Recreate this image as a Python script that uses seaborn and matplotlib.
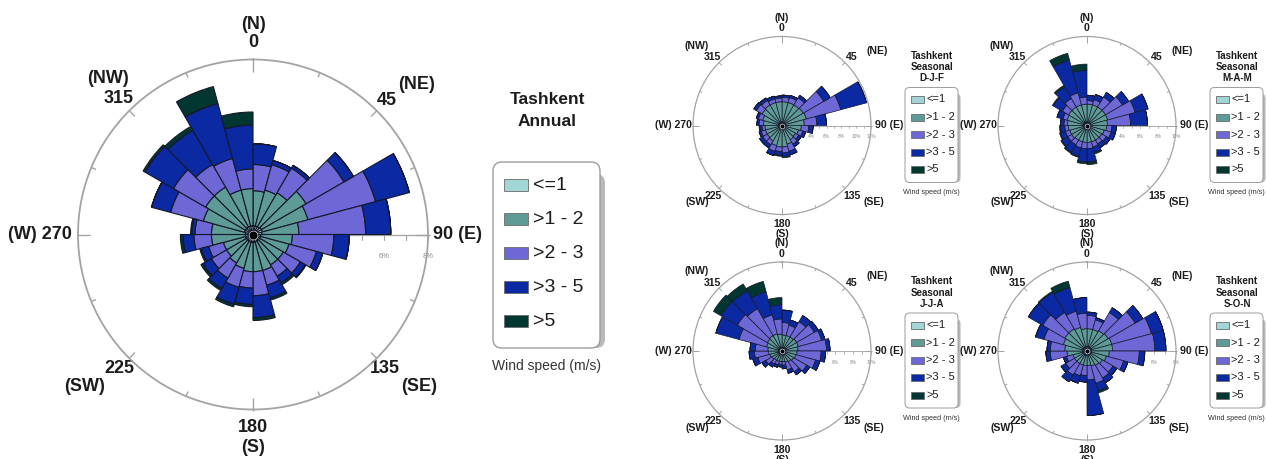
import numpy as np
import matplotlib
matplotlib.use("Agg")
import matplotlib.pyplot as plt
from matplotlib.patches import FancyBboxPatch, Rectangle
import seaborn as sns

sns.set_theme(style="white")
plt.rcParams["font.family"] = ["Liberation Sans", "DejaVu Sans"]

# ---------------------------------------------------------------- data
# 24 direction sectors of 15 degrees, given by their starting bearing
sector_start = np.arange(0, 360, 15)
speed_bins = ["<=1", ">1 - 2", ">2 - 3", ">3 - 5", ">5"]
speed_colors = sns.color_palette(["#a2d6d6", "#5e9b97", "#6d68d6", "#0a29a3", "#023631"])

# Cumulative frequency (%) per sector for wind at or below each speed limit
# (le1: <=1 m/s, le2: <=2, le3: <=3, le5: <=5, all: every speed)
annual_le1 = [0.40, 0.40, 0.40, 0.45, 0.45, 0.40, 0.35, 0.35, 0.35, 0.35, 0.35, 0.35,
              0.35, 0.35, 0.35, 0.35, 0.35, 0.35, 0.35, 0.40, 0.40, 0.40, 0.40, 0.40]
annual_le2 = [2.0, 2.1, 2.2, 2.8, 2.6, 2.1, 1.8, 1.7, 1.6, 1.6, 1.7, 1.7,
              1.7, 1.6, 1.5, 1.4, 1.4, 1.9, 1.9, 2.35, 2.5, 2.5, 2.1, 2.1]
annual_le3 = [3.2, 3.3, 3.5, 4.8, 5.8, 5.15, 3.7, 3.0, 2.5, 2.2, 2.4, 2.8,
              2.45, 2.5, 2.3, 2.2, 2.1, 2.7, 2.65, 3.9, 4.2, 3.7, 3.6, 3.0]
annual_le5 = [4.15, 3.5, 3.65, 5.3, 7.4, 6.3, 4.4, 3.3, 2.75, 2.55, 3.0, 3.8,
              3.2, 3.3, 2.85, 2.65, 2.45, 3.2, 2.8, 4.8, 5.7, 5.5, 6.2, 5.0]
annual_all = [4.15, 3.5, 3.65, 5.3, 7.4, 6.3, 4.4, 3.3, 2.8, 2.65, 3.1, 3.93,
              3.3, 3.42, 2.95, 2.75, 2.52, 3.32, 2.85, 4.8, 5.8, 5.7, 7.0, 5.6]

djf_le1 = [0.45] * 24
djf_le2 = [3.2, 3.2, 3.2, 3.3, 3.4, 3.0, 2.6, 2.3, 2.1, 2.2, 2.6, 2.9,
           2.9, 2.8, 2.4, 2.3, 2.3, 2.3, 2.5, 2.7, 3.1, 3.2, 3.2, 3.2]
djf_le3 = [3.8, 3.9, 4.3, 6.5, 8.2, 4.7, 3.6, 2.9, 2.6, 2.9, 3.6, 3.7,
           3.5, 3.6, 3.0, 3.0, 2.9, 2.7, 3.1, 3.3, 4.0, 3.9, 3.7, 3.7]
djf_le5 = [4.1, 4.2, 4.7, 7.5, 11.8, 6.0, 4.2, 3.3, 3.0, 3.3, 4.1, 4.2,
           4.0, 4.2, 3.5, 3.5, 3.2, 3.0, 3.4, 3.6, 4.4, 4.3, 4.1, 4.0]
djf_all = [4.1, 4.2, 4.7, 7.5, 11.8, 6.0, 4.2, 3.3, 3.0, 3.3, 4.1, 4.35,
           4.15, 4.2, 3.5, 3.5, 3.2, 3.1, 3.4, 3.6, 4.4, 4.3, 4.1, 4.0]

mam_le1 = [0.40] * 24
mam_le2 = [2.4, 2.4, 2.4, 2.4, 2.4, 2.3, 2.2, 2.0, 1.9, 1.9, 1.9, 1.9,
           1.9, 1.9, 1.9, 2.0, 2.0, 2.1, 2.2, 2.3, 2.4, 2.4, 2.4, 2.4]
mam_le3 = [2.8, 3.0, 3.7, 4.6, 5.6, 4.9, 2.8, 2.8, 2.5, 2.4, 2.5, 2.6,
           2.6, 2.6, 2.5, 2.5, 2.5, 2.5, 2.6, 2.8, 3.2, 3.5, 3.8, 3.2]
mam_le5 = [3.4, 3.6, 4.3, 5.4, 7.1, 6.8, 3.3, 3.3, 3.0, 2.9, 3.1, 4.1,
           4.1, 3.6, 3.5, 3.3, 3.1, 3.0, 3.0, 3.5, 4.4, 5.0, 7.6, 6.2]
mam_all = [3.4, 3.6, 4.3, 5.4, 7.1, 6.8, 3.3, 3.3, 3.0, 2.9, 3.3, 4.4,
           4.3, 3.7, 3.6, 3.4, 3.2, 3.1, 3.0, 3.5, 4.5, 5.2, 8.4, 6.9]

jja_le1 = [0.40] * 24
jja_le2 = [1.8, 1.8, 1.8, 1.9, 1.9, 1.8, 1.7, 1.6, 1.5, 1.4, 1.3, 1.2,
           1.2, 1.2, 1.2, 1.3, 1.4, 1.5, 1.6, 1.8, 1.9, 2.0, 2.0, 1.9]
jja_le3 = [3.2, 3.0, 3.8, 4.2, 4.6, 5.0, 4.4, 3.9, 3.2, 2.7, 2.2, 1.6,
           1.5, 1.6, 1.7, 2.1, 2.8, 3.1, 3.0, 5.0, 5.8, 5.5, 4.2, 3.6]
jja_le5 = [4.6, 3.6, 4.6, 4.7, 5.0, 5.4, 4.9, 4.4, 3.6, 3.1, 2.6, 2.0,
           1.8, 1.9, 2.1, 2.6, 3.4, 3.7, 3.6, 7.7, 7.9, 7.8, 6.9, 5.2]
jja_all = [4.6, 3.6, 4.6, 4.7, 5.0, 5.4, 4.9, 4.4, 3.6, 3.1, 2.6, 2.0,
           1.8, 1.9, 2.1, 2.6, 3.4, 3.7, 3.6, 7.7, 8.9, 8.7, 8.1, 6.0]

son_le1 = [0.40] * 24
son_le2 = [2.0, 2.0, 2.1, 2.2, 2.3, 2.3, 2.0, 1.8, 1.6, 1.5, 1.4, 1.3,
           1.3, 1.3, 1.3, 1.3, 1.3, 1.8, 2.0, 2.2, 2.3, 2.3, 2.2, 2.0]
son_le3 = [3.2, 2.9, 4.0, 5.0, 6.0, 6.1, 4.7, 3.4, 2.7, 2.8, 3.0, 2.6,
           2.2, 2.3, 2.5, 2.2, 1.9, 3.3, 3.3, 4.0, 4.6, 4.0, 3.7, 3.4]
son_le5 = [3.5, 3.1, 4.5, 5.8, 7.1, 7.1, 5.2, 3.8, 3.1, 3.3, 3.7, 5.8,
           2.8, 3.0, 3.2, 2.7, 2.2, 3.7, 3.6, 4.8, 6.1, 6.1, 5.9, 4.8]
son_all = [3.5, 3.1, 4.5, 5.8, 7.1, 7.1, 5.2, 3.8, 3.1, 3.3, 3.9, 5.8,
           2.8, 3.0, 3.2, 2.7, 2.2, 3.7, 3.6, 4.8, 6.1, 6.2, 6.5, 4.8]

annual_title = ["Tashkent", "Annual"]
season_titles = [["Tashkent", "Seasonal", "D-J-F"], ["Tashkent", "Seasonal", "M-A-M"],
                 ["Tashkent", "Seasonal", "J-J-A"], ["Tashkent", "Seasonal", "S-O-N"]]
legend_caption = "Wind speed (m/s)"

# ---------------------------------------------------------------- figure
W, H, DPI = 1266, 459, 100
fig = plt.figure(figsize=(W / DPI, H / DPI), dpi=DPI)
fig.patch.set_facecolor("white")

# pixel-space layer underneath the roses for axis decoration and legends
ov = fig.add_axes([0, 0, 1, 1], zorder=0)
ov.set_xlim(0, W)
ov.set_ylim(H, 0)
ov.axis("off")

TXT = "#1c1c1c"
RING = "#a3a3a3"


def add_rose(cx, cy, R, rmax, layers, lw_edge, lw_ring, dot):
    ax = fig.add_axes([(cx - R) / W, 1 - (cy + R) / H, 2 * R / W, 2 * R / H],
                      projection="polar", zorder=1)
    ax.set_facecolor("none")
    ax.set_theta_zero_location("N")
    ax.set_theta_direction(-1)
    ax.set_ylim(0, rmax)
    ax.grid(False)
    ax.set_xticks([])
    ax.set_yticks([])
    ax.spines["polar"].set_edgecolor(RING)
    ax.spines["polar"].set_linewidth(lw_ring)
    theta = np.deg2rad(sector_start)
    width = np.deg2rad(15)
    bottom = np.zeros(len(sector_start))
    for vals, col in zip(layers, speed_colors):
        top = np.asarray(vals, dtype=float)
        ax.bar(theta, top - bottom, width=width, bottom=bottom, align="edge",
               color=col, edgecolor="#15182a", linewidth=lw_edge)
        bottom = top
    ax.scatter([0], [0], s=dot, color="black", zorder=5, edgecolor="white", linewidth=0.4)
    return ax


def decorate(cx, cy, R, rmax, s, label_step, fs_num, fs_pct, labels):
    # compass tick marks on the rim
    for ang in np.arange(0, 360, 22.5):
        if ang % 90 == 0:
            r_in, r_out = R - 12 * s, R + 1.5 * s
        elif ang % 45 == 0:
            r_in, r_out = R - 8 * s, R
        else:
            r_in, r_out = R - 5 * s, R
        a = np.deg2rad(ang)
        ov.plot([cx + r_in * np.sin(a), cx + r_out * np.sin(a)],
                [cy - r_in * np.cos(a), cy - r_out * np.cos(a)],
                color=RING, lw=1.0 * max(s, 0.7), solid_capstyle="butt")
    # percentage scale along the east axis
    ov.plot([cx, cx + R], [cy, cy], color=RING, lw=0.9 * max(s, 0.7))
    for v in range(1, int(rmax) + 1):
        x = cx + v / rmax * R
        ov.plot([x, x], [cy, cy + 5 * s], color=RING, lw=0.8 * max(s, 0.7))
        if v % label_step == 0:
            ov.text(x, cy + 22 * s, f"{v}%", ha="center", va="center",
                    fontsize=fs_pct, color="#8a8a8a")
    for txt, dx, dy, ha in labels:
        ov.text(cx + dx * s, cy + dy * s, txt, ha=ha, va="center",
                fontsize=fs_num, fontweight="bold", color=TXT)


def legend(x0, y0, w, h, s, title, tx, ty, title_fs, entry_fs, cap_fs,
           ent_y0, ent_dy, patch_w, patch_h, cap_y):
    ov.add_patch(FancyBboxPatch((x0 + 5 * s, y0 + 12 * s), w, h - 12 * s,
                                boxstyle=f"round,pad=0,rounding_size={9 * s}",
                                facecolor="#b9b9b9", edgecolor="none"))
    ov.add_patch(FancyBboxPatch((x0, y0), w, h,
                                boxstyle=f"round,pad=0,rounding_size={9 * s}",
                                facecolor="white", edgecolor="#9c9c9c", lw=1.0 * max(s, 0.7)))
    for i, line in enumerate(title):
        ov.text(tx, ty + i * 22 * s, line, ha="center", va="center",
                fontsize=title_fs, fontweight="bold", color=TXT)
    for i, (lab, col) in enumerate(zip(speed_bins, speed_colors)):
        yc = ent_y0 + i * ent_dy
        ov.add_patch(Rectangle((x0 + 11 * s, yc - patch_h / 2), patch_w, patch_h,
                               facecolor=col, edgecolor="#6a6a6a", lw=0.6))
        ov.text(x0 + 11 * s + patch_w + 5 * s, yc, lab, ha="left", va="center",
                fontsize=entry_fs, color=TXT)
    ov.text(x0 + w / 2, cap_y, legend_caption, ha="center", va="center",
            fontsize=cap_fs, color="#333333")


# label text, offset from the rose centre in (main-scale) pixels
compass = [("(N)", 0, -210, "center"), ("0", 0, -192, "center"),
           ("180", 0, 193, "center"), ("(S)", 0, 213, "center"),
           ("(NW)", -145, -156, "center"), ("315", -134, -136, "center"),
           ("(NE)", 164, -150, "center"), ("45", 134, -134, "center"),
           ("225", -134, 134, "center"), ("(SW)", -168, 152, "center"),
           ("135", 132, 134, "center"), ("(SE)", 166, 152, "center"),
           ("(W) 270", -181, 0, "right"), ("90 (E)", 180, 0, "left")]

# ---- annual rose
MX, MY, MR = 253, 234.5, 175
decorate(MX, MY, MR, 8, 1.0, 2, 13, 5.5, compass)
add_rose(MX, MY, MR, 8, [annual_le1, annual_le2, annual_le3, annual_le5, annual_all],
         0.8, 1.3, 40)
legend(493, 162, 107, 186, 1.0, annual_title, 547, 100, 12.5, 14, 10,
       185, 34, 24, 12, 366)

# ---- seasonal roses
SR = 89
sk = SR / MR
seasons = [
    (782, 125.5, 12, 2, [djf_le1, djf_le2, djf_le3, djf_le5, djf_all]),
    (1087, 125.5, 10, 2, [mam_le1, mam_le2, mam_le3, mam_le5, mam_all]),
    (782, 351, 10, 2, [jja_le1, jja_le2, jja_le3, jja_le5, jja_all]),
    (1087, 351, 8, 2, [son_le1, son_le2, son_le3, son_le5, son_all]),
]
small_compass = [("(N)", 0, -212, "center"), ("0", 0, -191, "center"),
                 ("180", 0, 194, "center"), ("(S)", 0, 214, "center"),
                 ("(NW)", -167, -157, "center"), ("315", -136, -134, "center"),
                 ("(NE)", 187, -147, "center"), ("45", 138, -134, "center"),
                 ("225", -136, 138, "center"), ("(SW)", -167, 151, "center"),
                 ("135", 138, 138, "center"), ("(SE)", 181, 151, "center"),
                 ("(W) 270", -176, 0, "right"), ("90 (E)", 183, 0, "left")]
for (cx, cy, rmax, step, layers), title in zip(seasons, season_titles):
    decorate(cx, cy, SR, rmax, sk, step, 7.6, 3.4, small_compass)
    add_rose(cx, cy, SR, rmax, layers, 0.5, 0.9, 12)
    legend(cx + 123, cy - 38, 53, 95, sk, title, cx + 150, cy - 69.5, 7, 8, 5.2,
           cy - 26, 17.5, 13, 7, cy + 67.5)

fig.savefig("out.png", dpi=DPI, facecolor="white")
